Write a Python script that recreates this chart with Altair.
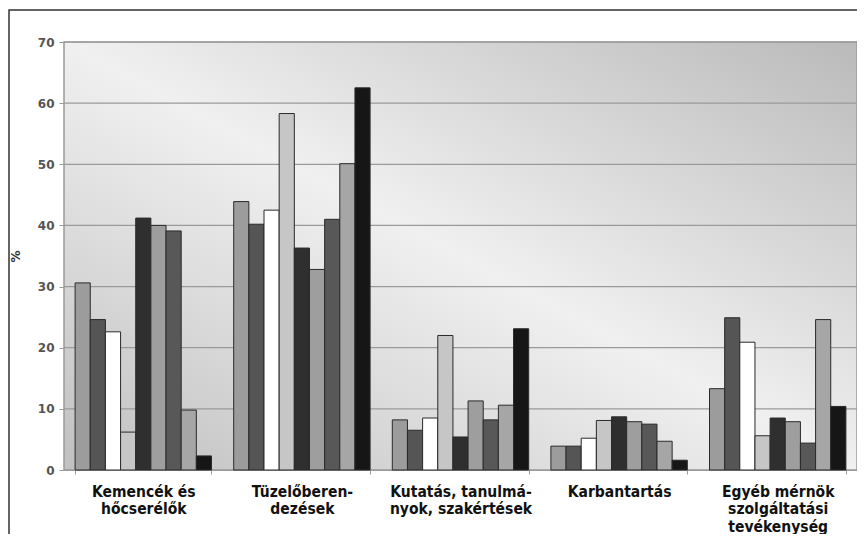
import altair as alt
import pandas as pd

categories = [
    "Kemencék és\nhőcserélők",
    "Tüzelőberen-\ndezések",
    "Kutatás, tanulmá-\nnyok, szakértések",
    "Karbantartás",
    "Egyéb mérnök\nszolgáltatási\ntevékenység",
]
series = ["s1", "s2", "s3", "s4", "s5", "s6", "s7", "s8", "s9"]
values = [
    [30.6, 24.6, 22.6, 6.2, 41.2, 40.0, 39.1, 9.8, 2.3],
    [43.9, 40.2, 42.5, 58.3, 36.3, 32.8, 41.0, 50.1, 62.5],
    [8.2, 6.5, 8.5, 22.0, 5.4, 11.3, 8.2, 10.6, 23.1],
    [3.9, 3.9, 5.2, 8.1, 8.7, 7.9, 7.5, 4.7, 1.6],
    [13.3, 24.9, 20.9, 5.6, 8.5, 7.9, 4.4, 24.6, 10.4],
]
colors = ["#9c9c9c", "#555555", "#ffffff", "#c6c6c6", "#2f2f2f",
          "#9e9e9e", "#585858", "#a6a6a6", "#161616"]
grid_values = [10, 20, 30, 40, 50, 60, 70]

rows = []
for ci, cat in enumerate(categories):
    for si, s in enumerate(series):
        rows.append({"cat": cat, "s": s, "v": values[ci][si]})
df = pd.DataFrame(rows)

W, H = 793, 428

bg = alt.Chart(pd.DataFrame({"a": [0]})).mark_rect(
    fill=alt.Gradient(
        gradient="linear", x1=0, y1=1, x2=1, y2=0,
        stops=[alt.GradientStop(color="#c0c0c0", offset=0),
               alt.GradientStop(color="#f0f0f0", offset=0.5),
               alt.GradientStop(color="#bababa", offset=1)],
    ),
    stroke="#9a9a9a", strokeWidth=1.5,
).encode(x=alt.value(0), x2=alt.value(W), y=alt.value(0), y2=alt.value(H))

frame = alt.Chart(pd.DataFrame({"a": [0]})).mark_rect(
    fill=None, stroke="#333333", strokeWidth=1.5
).encode(x=alt.value(-55), x2=alt.value(820), y=alt.value(-32), y2=alt.value(560))

grid = alt.Chart(pd.DataFrame({"g": grid_values})).mark_rule(
    color="#9a9a9a", strokeWidth=1.2
).encode(y=alt.Y("g:Q"))

bars = alt.Chart(df).mark_bar(stroke="#2a2a2a", strokeWidth=1).encode(
    x=alt.X("cat:N", sort=categories,
            scale=alt.Scale(paddingInner=0.14, paddingOuter=0.07),
            axis=alt.Axis(title=None, labelAngle=0,
                          labelExpr="split(datum.label, '\\n')",
                          labelFont="DejaVu Sans Condensed",
                          labelFontSize=15.5, labelFontWeight="bold",
                          labelColor="#111111", labelLineHeight=17.5,
                          labelPadding=10, tickBand="extent",
                          tickSize=4, tickColor="#999999",
                          domainColor="#999999", labelBaseline="top")),
    xOffset=alt.XOffset("s:N", sort=series, scale=alt.Scale(paddingInner=0, paddingOuter=0)),
    y=alt.Y("v:Q", scale=alt.Scale(domain=[0, 70]),
            axis=alt.Axis(title="%", values=[0, 10, 20, 30, 40, 50, 60, 70],
                          grid=False, tickSize=5, tickColor="#999999",
                          domainColor="#999999", labelColor="#555555",
                          labelFont="DejaVu Sans", labelFontSize=12,
                          labelFontWeight="bold",
                          labelPadding=5, titleFontSize=12,
                          titleFont="DejaVu Sans", titleFontWeight="bold",
                          titleColor="#333333", titleX=-42, titleY=214)),
    fill=alt.Color("s:N", sort=series, scale=alt.Scale(domain=series, range=colors),
                   legend=None),
)

chart = alt.layer(frame, bg, grid, bars).properties(
    width=W, height=H,
    autosize=alt.AutoSizeParams(type="none"),
    padding={"left": 56, "top": 34, "right": 0, "bottom": 64},
    background="white",
).configure_view(stroke=None)

chart.save("out.html", embed_options={"renderer": "svg", "actions": False})
